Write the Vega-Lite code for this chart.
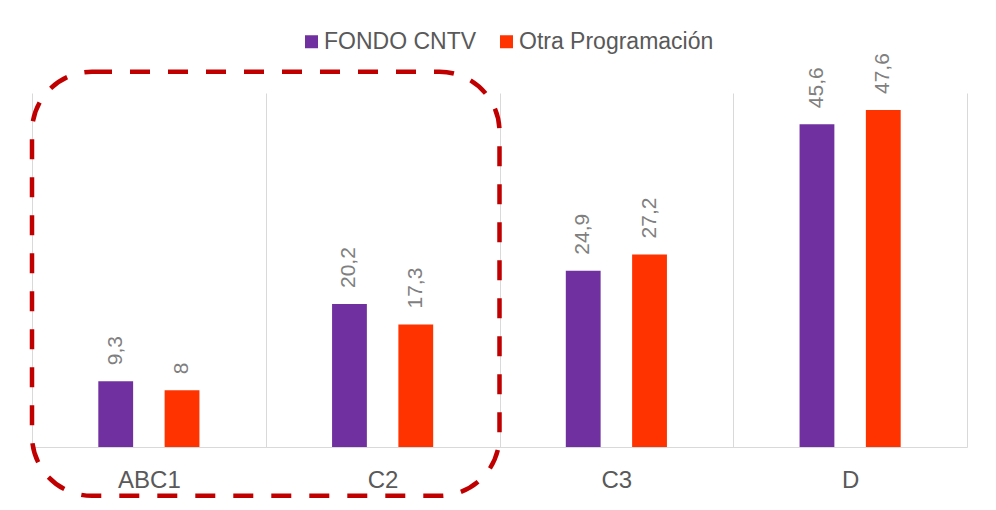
{
  "$schema": "https://vega.github.io/schema/vega-lite/v6.json",
  "autosize": {"type": "none"},
  "padding": {"left": 32, "top": 93, "right": 29, "bottom": 63},
  "width": 935,
  "height": 354,
  "background": "white",
  "datasets": {
    "bars": [
      {"cat": "ABC1", "serie": "FONDO CNTV", "value": 9.3},
      {"cat": "ABC1", "serie": "Otra Programación", "value": 8},
      {"cat": "C2", "serie": "FONDO CNTV", "value": 20.2},
      {"cat": "C2", "serie": "Otra Programación", "value": 17.3},
      {"cat": "C3", "serie": "FONDO CNTV", "value": 24.9},
      {"cat": "C3", "serie": "Otra Programación", "value": 27.2},
      {"cat": "D", "serie": "FONDO CNTV", "value": 45.6},
      {"cat": "D", "serie": "Otra Programación", "value": 47.6}
    ],
    "highlight": [
      {"from": "ABC1", "to": "C2", "top": 53, "bottom": -6.9}
    ]
  },
  "layer": [
    {
      "data": {"name": "bars"},
      "mark": {"type": "bar"},
      "encoding": {
        "x": {
          "field": "cat", "type": "nominal",
          "scale": {"domain": ["ABC1", "C2", "C3", "D"], "paddingInner": 0, "paddingOuter": 0},
          "axis": {"title": null, "labelAngle": 0, "grid": true, "tickBand": "extent", "ticks": false, "tickSize": 0, "domain": true, "domainColor": "#d9d9d9", "gridColor": "#d9d9d9", "labelFont": "Liberation Sans", "labelFontSize": 24, "labelColor": "#595959", "labelPadding": 21}
        },
        "xOffset": {
          "field": "serie", "type": "nominal",
          "scale": {"domain": ["FONDO CNTV", "Otra Programación"], "paddingInner": 0.475, "paddingOuter": 1.153}
        },
        "y": {"field": "value", "type": "quantitative", "scale": {"domain": [0, 50], "nice": false}, "axis": null},
        "color": {
          "field": "serie", "type": "nominal",
          "scale": {"domain": ["FONDO CNTV", "Otra Programación"], "range": ["#7030A0", "#FF3300"]},
          "legend": {"title": null, "orient": "none", "direction": "horizontal", "legendX": 268, "legendY": -63, "symbolType": "square", "symbolSize": 169, "symbolStrokeWidth": 0, "labelFont": "Liberation Sans", "labelFontSize": 23, "labelColor": "#595959", "labelOffset": 1, "labelLimit": 400, "columnPadding": 18}
        }
      }
    },
    {
      "data": {"name": "bars"},
      "mark": {"type": "text", "angle": 270, "align": "left", "baseline": "middle", "dx": 16, "font": "Liberation Sans", "fontSize": 21, "color": "#7f7f7f"},
      "encoding": {
        "x": {"field": "cat", "type": "nominal"},
        "xOffset": {"field": "serie", "type": "nominal"},
        "y": {"field": "value", "type": "quantitative", "axis": null},
        "text": {"field": "value", "type": "quantitative", "format": ".1~f"}
      }
    },
    {
      "data": {"name": "highlight"},
      "mark": {"type": "rect", "fill": null, "filled": false, "stroke": "#C00000", "strokeWidth": 4.5, "strokeDash": [20, 18], "cornerRadius": 60, "clip": false},
      "encoding": {
        "x": {"field": "from", "type": "nominal", "bandPosition": 0},
        "x2": {"field": "to", "bandPosition": 1},
        "y": {"field": "top", "type": "quantitative", "axis": null},
        "y2": {"field": "bottom"}
      }
    }
  ],
  "config": {
    "view": {"stroke": null},
    "locale": {"number": {"decimal": ",", "thousands": ".", "grouping": [3], "currency": ["$", ""]}}
  }
}
